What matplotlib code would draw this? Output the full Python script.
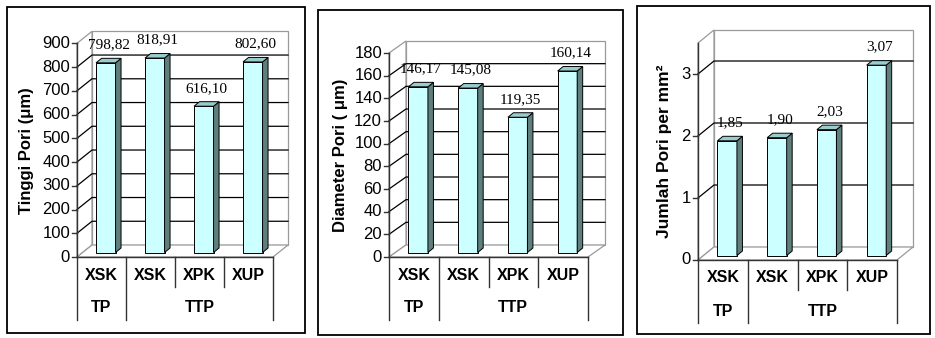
import matplotlib.pyplot as plt
from matplotlib.patches import Polygon, Rectangle

W, H = 935, 338

categories = ["XSK", "XSK", "XPK", "XUP"]
groups = ["TP", "TTP"]
group_spans = [(0, 1), (1, 4)]

tinggi = [798.82, 818.91, 616.10, 802.60]
diameter = [146.17, 145.08, 119.35, 160.14]
jumlah = [1.85, 1.90, 2.03, 3.07]

tinggi_ticks = list(range(0, 901, 100))
diameter_ticks = list(range(0, 181, 20))
jumlah_ticks = [0, 1, 2, 3]

FRONT = "#CCFFFF"
SIDE = "#5F7F7C"
TOP = "#99CCCC"
WALL = "#9A9A9A"

fig = plt.figure(figsize=(W / 100, H / 100), dpi=100)


def fmt(v):
    return f"{v:.2f}".replace(".", ",")


def panel(frame, box, values, ymax, ticks, ylabel, ylab_x, depth, ylab_size=10.5):
    # outer frame of the chart
    fl, ft, fr, fb = frame
    fig.patches.append(Rectangle((fl / W, 1 - fb / H), (fr - fl) / W, (fb - ft) / H,
                                 transform=fig.transFigure, fill=False,
                                 ec="black", lw=1.3))

    left, top, right, bottom = box
    ax = fig.add_axes([left / W, 1 - bottom / H, (right - left) / W, (bottom - top) / H])
    ax.set_xlim(0, 4)
    ax.set_ylim(0, ymax)
    ax.axis("off")

    # data units per pixel
    px = 4 / (right - left)
    py = ymax / (bottom - top)
    ddx, ddy = depth[0] * px, depth[1] * py

    # walls and floor
    kw = dict(closed=True, fc="white", ec=WALL, lw=0.9, clip_on=False)
    ax.add_patch(Polygon([(ddx, ddy), (4 + ddx, ddy), (4 + ddx, ymax + ddy), (ddx, ymax + ddy)], **kw))
    ax.add_patch(Polygon([(0, 0), (0, ymax), (ddx, ymax + ddy), (ddx, ddy)], **kw))
    ax.add_patch(Polygon([(0, 0), (4, 0), (4 + ddx, ddy), (ddx, ddy)], **kw))

    # gridlines on the side and back walls
    for t in ticks:
        if 0 < t < ymax:
            ax.plot([0, ddx, 4 + ddx], [t, t + ddy, t + ddy], color="black", lw=0.9,
                    clip_on=False)

    # value axis
    ax.plot([0, 0], [0, ymax], color="#333333", lw=1.0, clip_on=False)
    for t in ticks:
        ax.plot([-5 * px, 0], [t, t], color="#333333", lw=1.0, clip_on=False)
        ax.text(-7 * px, t, str(t), ha="right", va="center", fontsize=12,
                family="Liberation Sans")
    ax.text((ylab_x - left) * px, 0.5 * ymax, ylabel, rotation=90, ha="center",
            va="center", fontsize=ylab_size, fontweight="bold",
            family="Liberation Sans")

    # category table below the floor
    ax.plot([0, 4], [0, 0], color="#333333", lw=1.0, clip_on=False)
    for x in range(5):
        low = 63 if x in (0, 1, 4) else 30
        ax.plot([x, x], [0, -low * py], color="#333333", lw=1.0, clip_on=False)
    for i, c in enumerate(categories):
        ax.text(i + 0.5, -18 * py, c, ha="center", va="center", fontsize=11.5,
                fontweight="bold", family="Liberation Sans")
    for g, (a, b) in zip(groups, group_spans):
        ax.text((a + b) / 2, -51 * py, g, ha="center", va="center", fontsize=11.5,
                fontweight="bold", family="Liberation Sans")

    # 3D bars
    bw = 19.5 * px
    sx, sy = 4.3 * px, 4.5 * py
    bdx, bdy = 5.5 * px, 4.5 * py
    for i, v in enumerate(values):
        xc = i + 0.5 + sx
        x0, x1 = xc - bw / 2, xc + bw / 2
        ax.bar(xc, v, width=bw, bottom=sy, color=FRONT, edgecolor="black", lw=0.7,
               clip_on=False, zorder=3)
        ax.add_patch(Polygon([(x1, sy), (x1, sy + v), (x1 + bdx, sy + v + bdy), (x1 + bdx, sy + bdy)],
                             closed=True, fc=SIDE, ec="black", lw=0.7, clip_on=False, zorder=3))
        ax.add_patch(Polygon([(x0, sy + v), (x1, sy + v), (x1 + bdx, sy + v + bdy), (x0 + bdx, sy + v + bdy)],
                             closed=True, fc=TOP, ec="black", lw=0.7, clip_on=False, zorder=3))
        ax.text(xc + bdx / 2, sy + v + 18 * py, fmt(v), ha="center", va="center",
                fontsize=11, family="Liberation Serif", zorder=4)
    return ax


panel((7, 7, 305, 333), (77, 43.3, 273, 257), tinggi, 900, tinggi_ticks,
      "Tinggi Pori (μm)", 26, (15, 12), ylab_size=12)
panel((318, 10, 623, 335), (389, 53, 588, 257), diameter, 180, diameter_ticks,
      "Diameter Pori ( μm)", 341, (17, 12), ylab_size=12)
panel((637, 6, 930, 334), (698, 43, 897, 260), jumlah, 3.5, jumlah_ticks,
      "Jumlah Pori per mm²", 664, (16, 13), ylab_size=12.5)

fig.savefig("out.png", dpi=100)
